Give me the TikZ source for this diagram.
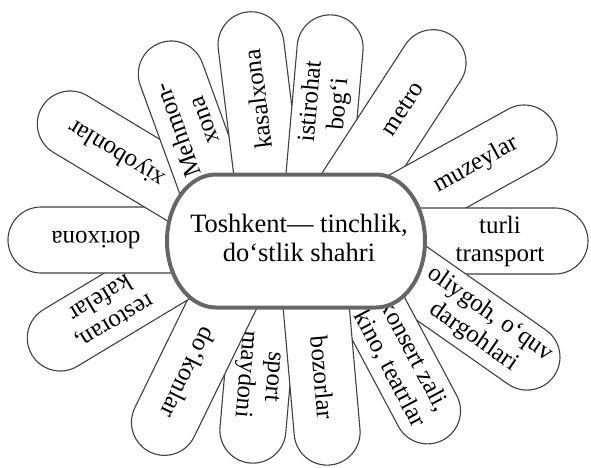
\documentclass[tikz,border=0pt]{standalone}
\usepackage{fontspec}
\setmainfont{Liberation Serif}
\begin{document}
\begin{tikzpicture}[x=1pt, y=1pt,
    gulbarg/.style={draw=black!75, fill=white, line width=1.1pt},
    yozuv/.style={font=\fontsize{25}{28}\selectfont, align=center, inner sep=0pt},
    markazshakl/.style={draw=black!60, fill=white, line width=4pt}]
    % 0. Chegara
    \useasboundingbox[fill=white] (-296,-226) rectangle (295,241);
    \pgfmathsetmacro{\rad}{33}

    % 1. Gulbarglar (pastdagisi oldin chiziladi)
    \foreach \ang/\tx/\ty/\matn [count=\i] in {
        265/-46/-222/{sport\\maydoni},
        244/-146/-211/{do‘konlar},
        211/-264/-114/{restoran,\\kafelar},
        180/-288/1/{dorixona},
        149/-254/134/{xiyobonlar},
        110/-136/198/{Mehmon-\\xona},
        97/-49/229/{kasalxona},
        85/37/226/{istirohat\\bog‘i},
        57/155/206/{metro},
        29/257/119/{muzeylar},
        0/292/0/{turli\\transport},
        325/258/-135/{oliygoh, o‘quv\\dargohlari},
        298/147/-199/{konsert zali,\\kino, teatrlar},
        275/34/-224/{bozorlar}}
    {
        \pgfmathsetmacro{\len}{\tx*cos(\ang)+\ty*sin(\ang)}
        \begin{scope}[shift={(\tx,\ty)}, rotate=\ang]
            \draw[gulbarg] (-\len,-\rad) -- (-\rad,-\rad)
                arc[start angle=-90, end angle=90, radius=\rad pt] -- (-\len,\rad) -- cycle;
            \node[yozuv, rotate=\ang] (g\i) at (-88,0) {\matn};
        \end{scope}
    }

    % 2. Markaziy shakl
    \draw[markazshakl] (-80,66.5) -- (80,66.5)
        arc[start angle=90, end angle=-90, x radius=49pt, y radius=66.5pt] -- (-80,-66.5)
        arc[start angle=270, end angle=90, x radius=49pt, y radius=66.5pt] -- cycle;
    \node[yozuv, font=\fontsize{26.5}{29}\selectfont] (markaz) at (3,3) {Toshkent— tinchlik,\\do‘stlik shahri};
\end{tikzpicture}
\end{document}
